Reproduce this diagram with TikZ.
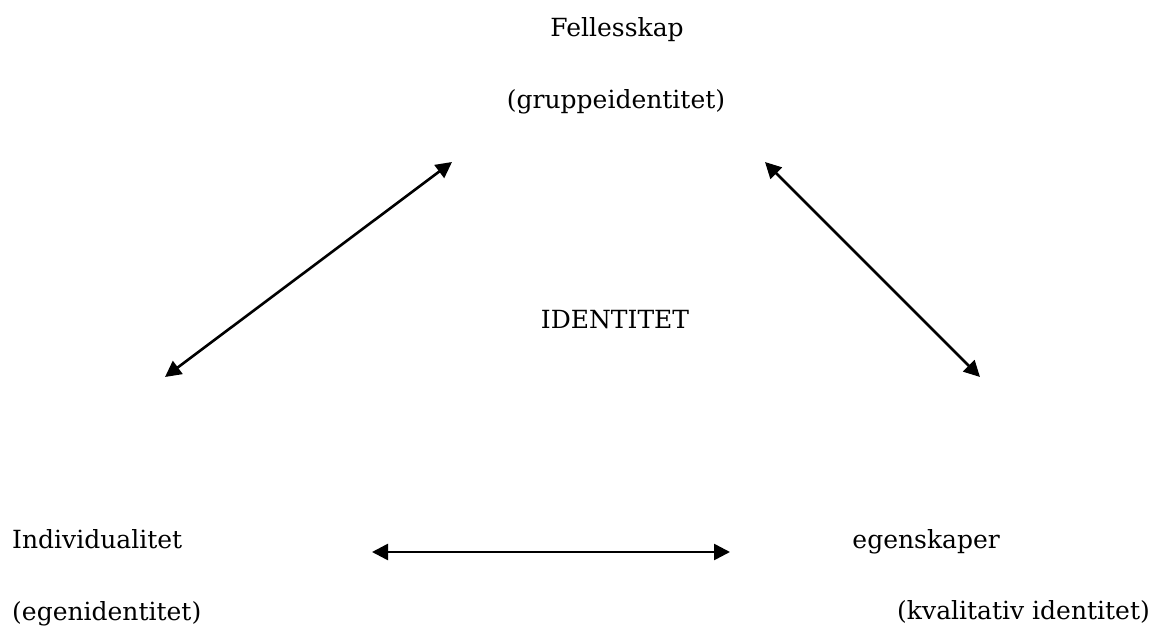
\documentclass[tikz,border=0pt]{standalone}
\usepackage{fontspec}
\setmainfont{DejaVu Serif}
\usetikzlibrary{arrows.meta}
\tikzset{
  lbl/.style={inner sep=0pt, font=\fontsize{25}{30}\selectfont},
  tip/.style={Triangle[length=16pt,width=16pt]},
  link/.style={line width=2.6pt, {Triangle[length=16pt,width=16pt]}-{Triangle[length=16pt,width=16pt]}}
}
\begin{document}
\begin{tikzpicture}[x=1pt,y=-1pt]
\useasboundingbox (0,0) rectangle (1154,626);
% texts
\node[lbl, anchor=base] (fel) at (617,37) {Fellesskap};
\node[lbl, anchor=base] (grp) at (616,108) {(gruppeidentitet)};
\node[lbl, anchor=base] (id) at (615,328) {IDENTITET};
\node[lbl, anchor=base west] (ind) at (12,548) {Individualitet};
\node[lbl, anchor=base west] (egi) at (12,620) {(egenidentitet)};
\node[lbl, anchor=base east] (egs) at (1000,548) {egenskaper};
\node[lbl, anchor=base east] (kval) at (1150,619) {(kvalitativ identitet)};
% arrow ends
\coordinate (a1) at (165,377);
\coordinate (a2) at (452,162);
\coordinate (b1) at (765,162);
\coordinate (b2) at (980,377);
\coordinate (c1) at (372,552);
\coordinate (c2) at (730,552);
\draw[link] (a1) -- (a2);
\draw[link] (b1) -- (b2);
\draw[link] (c1) -- (c2);
\end{tikzpicture}
\end{document}
